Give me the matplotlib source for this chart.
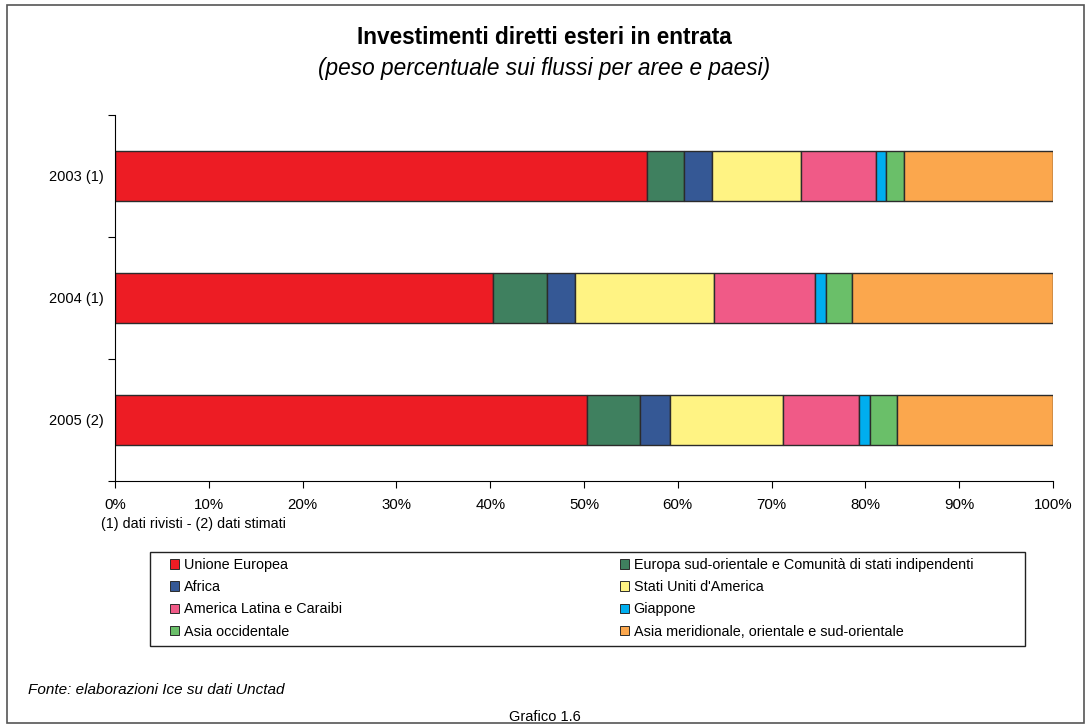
import matplotlib.pyplot as plt
from matplotlib.patches import Rectangle, Patch
from matplotlib.ticker import PercentFormatter

plt.rcParams['font.family'] = ['Liberation Sans', 'DejaVu Sans']

years = ['2003 (1)', '2004 (1)', '2005 (2)']
areas = ['Unione Europea', 'Europa sud-orientale e Comunità di stati indipendenti',
         'Africa', "Stati Uniti d'America", 'America Latina e Caraibi', 'Giappone',
         'Asia occidentale', 'Asia meridionale, orientale e sud-orientale']
colors = ['#ED1C24', '#3F805F', '#355895', '#FFF383', '#F05A87', '#00AEEF',
          '#6ABF69', '#FBA74D']

ue = [56.75, 40.3, 50.3]
see_csi = [3.95, 5.75, 5.7]
africa = [2.9, 2.95, 3.2]
usa = [9.5, 14.9, 12.0]
latam = [8.0, 10.7, 8.15]
giappone = [1.1, 1.2, 1.15]
asia_occ = [1.9, 2.8, 2.9]
asia_mer = [15.9, 21.4, 16.6]

series = [ue, see_csi, africa, usa, latam, giappone, asia_occ, asia_mer]

W, H = 1089, 728
fig = plt.figure(figsize=(W/100, H/100), dpi=100)
ax = fig.add_axes([115/W, 1-481/H, (1053-115)/W, (481-115)/H])

ypos = [0, 1, 2]
left = [0, 0, 0]
for vals, c in zip(series, colors):
    ax.barh(ypos, vals, left=left, height=0.41, color=c, edgecolor='#2b2b2b', linewidth=1)
    left = [l + v for l, v in zip(left, vals)]

ax.set_ylim(2.5, -0.5)
ax.set_xlim(0, 100)
ax.set_yticks(ypos)
ax.set_yticklabels(years)
ax.set_yticks([-0.5, 0.5, 1.5, 2.5], minor=True)
ax.tick_params(axis='y', which='major', length=0, labelsize=10.5, pad=8)
ax.tick_params(axis='y', which='minor', length=5, width=0.8)
ax.set_xticks(range(0, 101, 10))
ax.xaxis.set_major_formatter(PercentFormatter(decimals=0))
ax.tick_params(axis='x', length=5, width=0.8, labelsize=10.8, pad=7)
for s in ['top', 'right']:
    ax.spines[s].set_visible(False)
for s in ['left', 'bottom']:
    ax.spines[s].set_linewidth(0.8)

fig.text(0.5, 1-38/H, 'Investimenti diretti esteri in entrata', ha='center', va='center',
         fontsize=16.3, fontweight='bold')
fig.text(0.5, 1-68/H, '(peso percentuale sui flussi per aree e paesi)', ha='center',
         va='center', fontsize=16.3, style='italic')
fig.text(101/W, 1-524/H, '(1) dati rivisti - (2) dati stimati', ha='left', va='center',
         fontsize=10.3)
fig.text(28/W, 1-690/H, 'Fonte: elaborazioni Ice su dati Unctad', ha='left', va='center',
         fontsize=11, style='italic')
fig.text(545/W, 1-717/H, 'Grafico 1.6', ha='center', va='center', fontsize=10.5)

# legend: frame + two columns
handles = [Patch(facecolor=c, edgecolor='#2b2b2b', linewidth=0.7) for c in colors]
fig.patches.append(Rectangle((150/W, 1-646/H), 875/W, 94/H, transform=fig.transFigure,
                             fill=False, edgecolor='#222222', linewidth=1))
for col, x0 in [(0, 170), (1, 620)]:
    idx = [col, col + 2, col + 4, col + 6]
    fig.legend([handles[i] for i in idx], [areas[i] for i in idx], loc='upper left',
               bbox_to_anchor=(x0/W, 1-558/H), frameon=False, fontsize=10.4,
               handlelength=0.65, handleheight=0.65, handletextpad=0.3,
               labelspacing=0.57, borderpad=0, borderaxespad=0)

fig.patches.append(Rectangle((7/W, 5/H), 1077/W, 718/H, transform=fig.transFigure,
                             fill=False, edgecolor='#555555', linewidth=1.2))

fig.savefig('out.png', dpi=100)
